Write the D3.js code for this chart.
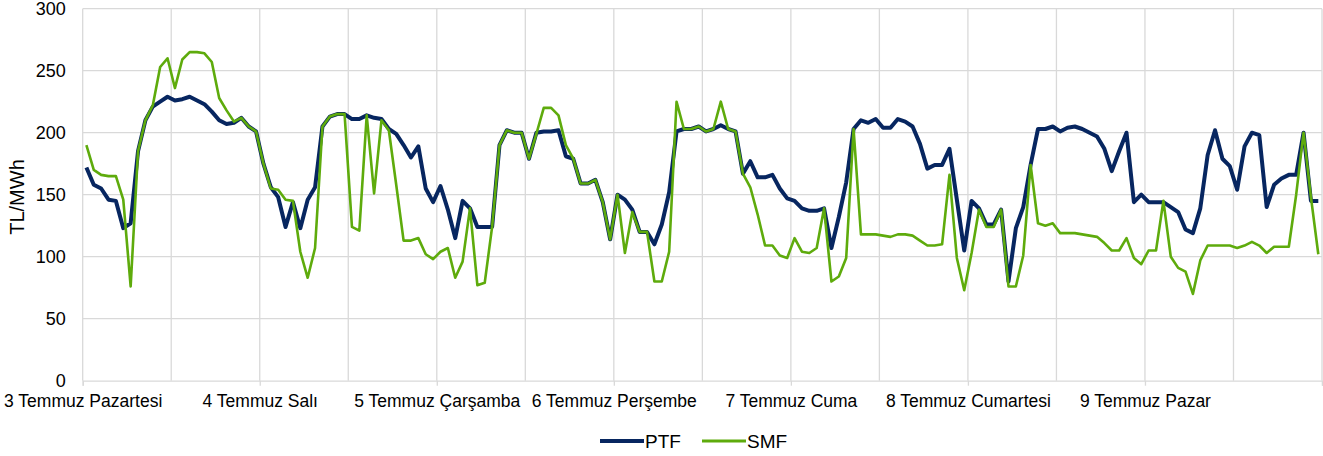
<!DOCTYPE html>
<html>
<head>
<meta charset="utf-8">
<script src="https://cdn.jsdelivr.net/npm/d3@7"></script>
<style>
body { margin: 0; background: #fff; }
text { font-family: "Liberation Sans", Arial, sans-serif; fill: #000; }
</style>
</head>
<body>
<script>
// hourly prices, 3-9 July
var days = ['3 Temmuz Pazartesi', '4 Temmuz Salı', '5 Temmuz Çarşamba', '6 Temmuz Perşembe',
  '7 Temmuz Cuma', '8 Temmuz Cumartesi', '9 Temmuz Pazar'];

var ptf = [
  172, 158, 155, 146, 145, 123, 127, 185, 210, 221, 225, 229, 226, 227, 229, 226, 223, 217, 210, 207, 208, 212, 205, 201,
  175, 156, 148, 124, 144, 123, 146, 156, 205, 213, 215, 215, 211, 211, 214, 212, 211, 203, 199, 190, 180, 189, 155, 144,
  157, 138, 115, 145, 139, 124, 124, 124, 190, 202, 200, 200, 179, 200, 201, 201, 202, 181, 179, 159, 159, 162, 144, 114,
  150, 146, 138, 120, 120, 110, 126, 152, 201, 203, 203, 205, 201, 203, 206, 203, 201, 167, 177, 164, 164, 166, 155, 147,
  145, 139, 137, 137, 139, 107, 132, 160, 203, 210, 208, 211, 204, 204, 211, 209, 205, 191, 171, 174, 174, 187, 146, 105,
  145, 139, 126, 126, 138, 80, 123, 140, 174, 203, 203, 205, 201, 204, 205, 203, 200, 197, 187, 169, 185, 200, 144, 150,
  144, 144, 144, 140, 136, 122, 119, 139, 182, 202, 179, 173, 154, 189, 200, 198, 140, 158, 163, 166, 166, 200, 145, 145
];

var smf = [
  190, 170, 166, 165, 165, 146, 76, 185, 210, 222, 253, 260, 236, 259, 265, 265, 264, 257, 228, 218, 209, 212, 205, 201,
  175, 155, 154, 146, 145, 104, 83, 107, 205, 213, 215, 215, 124, 121, 214, 151, 210, 202, 158, 113, 113, 115, 102, 98,
  104, 107, 83, 96, 139, 77, 79, 124, 190, 202, 200, 200, 179, 199, 220, 220, 214, 190, 179, 159, 159, 162, 144, 114,
  150, 103, 136, 120, 120, 80, 80, 104, 225, 203, 203, 205, 201, 203, 225, 203, 201, 167, 156, 134, 109, 109, 101, 99,
  115, 104, 103, 107, 139, 80, 84, 99, 203, 118, 118, 118, 117, 116, 118, 118, 117, 113, 109, 109, 110, 166, 99, 73,
  103, 138, 124, 124, 138, 76, 76, 101, 174, 127, 125, 127, 119, 119, 119, 118, 117, 116, 111, 105, 105, 115, 99, 94,
  105, 105, 145, 100, 91, 88, 70, 97, 109, 109, 109, 109, 107, 109, 112, 109, 103, 108, 108, 108, 150, 200, 148, 102
];

var yTicks = [0, 50, 100, 150, 200, 250, 300];

var margin = {top: 8.7, right: 1, bottom: 75.3, left: 82.7};
var width = 1323 - margin.left - margin.right;
var height = 456 - margin.top - margin.bottom;
var gridColor = '#d9d9d9';

var x = d3.scaleLinear()
.domain([0, ptf.length])
.range([0, width]);

var y = d3.scaleLinear()
.domain([0, 300])
.range([height, 0]);

var chart = d3.select('body')
.append('svg')
.attr('width', 1323)
.attr('height', 456);

var main = chart.append('g')
.attr('transform', 'translate(' + margin.left + ',' + margin.top + ')');

// grid: horizontal every 50, vertical every 12 hours
main.append('g')
.selectAll('line')
.data(yTicks.slice(1))
.enter().append('line')
.attr('x1', 0)
.attr('x2', width)
.attr('y1', function(d) { return y(d); })
.attr('y2', function(d) { return y(d); })
.attr('stroke', gridColor)
.attr('stroke-width', 1.3);

main.append('g')
.selectAll('line')
.data(d3.range(0, ptf.length + 1, 12))
.enter().append('line')
.attr('x1', function(d) { return x(d); })
.attr('x2', function(d) { return x(d); })
.attr('y1', 0)
.attr('y2', height)
.attr('stroke', gridColor)
.attr('stroke-width', 1.3);

var yaxis = d3.axisLeft(y).tickValues(yTicks).tickSize(0).tickPadding(17);
var gy = main.append('g').call(yaxis);
gy.select('.domain').remove();
gy.selectAll('text').style('font-size', '18px');

var xaxis = d3.axisBottom(x)
.tickValues(d3.range(0, ptf.length + 1, 24))
.tickSize(5)
.tickFormat(function(d) { return days[d / 24] || ''; });
var gx = main.append('g')
.attr('transform', 'translate(0,' + height + ')')
.call(xaxis);
gx.select('.domain').attr('stroke', gridColor).attr('stroke-width', 1.3);
gx.selectAll('.tick line').attr('stroke', gridColor).attr('stroke-width', 1.3);
gx.selectAll('text').attr('y', 26).attr('dy', null).style('font-size', '17.5px');

main.append('text')
.attr('transform', 'translate(' + (24 - margin.left) + ',' + (197 - margin.top) + ') rotate(-90)')
.style('text-anchor', 'middle')
.style('font-size', '20px')
.text('TL/MWh');

var line = d3.line()
.x(function(d, i) { return x(i + 0.5); })
.y(function(d) { return y(d); });

main.append('path')
.datum(ptf)
.attr('fill', 'none')
.attr('stroke', '#072660')
.attr('stroke-width', 4)
.attr('stroke-linejoin', 'round')
.attr('d', line);

main.append('path')
.datum(smf)
.attr('fill', 'none')
.attr('stroke', '#5eab0c')
.attr('stroke-width', 2.6)
.attr('stroke-linejoin', 'round')
.attr('d', line);

// legend
var legend = chart.append('g');
var items = [
  {name: 'PTF', color: '#072660', w: 4, x: 600},
  {name: 'SMF', color: '#5eab0c', w: 3, x: 702}
];
legend.selectAll('line')
.data(items)
.enter().append('line')
.attr('x1', function(d) { return d.x; })
.attr('x2', function(d) { return d.x + 44; })
.attr('y1', 441)
.attr('y2', 441)
.attr('stroke', function(d) { return d.color; })
.attr('stroke-width', function(d) { return d.w; });
legend.selectAll('text')
.data(items)
.enter().append('text')
.attr('x', function(d) { return d.x + 45; })
.attr('y', 447.5)
.style('font-size', '19px')
.text(function(d) { return d.name; });
</script>
</body>
</html>
